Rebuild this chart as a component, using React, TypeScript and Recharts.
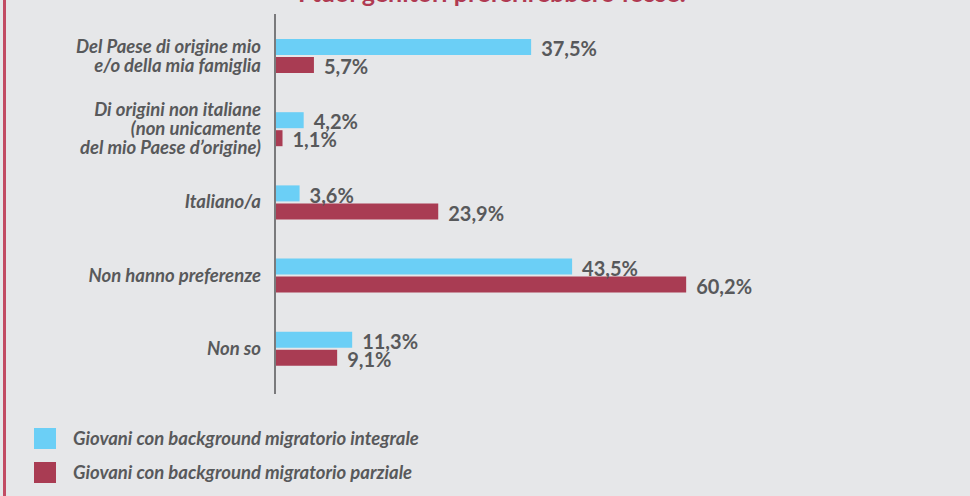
import React from 'react';
import { BarChart, Bar, XAxis, YAxis, LabelList } from 'recharts';

const categories = [
  'Del Paese di origine mio\ne/o della mia famiglia',
  'Di origini non italiane\n(non unicamente\ndel mio Paese d\u2019origine)',
  'Italiano/a',
  'Non hanno preferenze',
  'Non so',
];
const integrale = [37.5, 4.2, 3.6, 43.5, 11.3];
const parziale = [5.7, 1.1, 23.9, 60.2, 9.1];
const seriesNames = [
  'Giovani con background migratorio integrale',
  'Giovani con background migratorio parziale',
];

const CYAN = '#6bcff6';
const CRIMSON = '#a93c53';
const GREY = '#58595b';
const FONT = 'Lato, "Open Sans", sans-serif';

const data = categories.map((name, i) => ({
  name,
  integrale: integrale[i],
  parziale: parziale[i],
}));

const fmt = (v: any) => `${Number(v).toFixed(1).replace('.', ',')}%`;

const ValueLabel = (props: any) => {
  const { x, y, width, height, value } = props;
  return (
    <text
      x={Number(x) + Number(width) + 10}
      y={Number(y) + Number(height) / 2 + 2}
      dy="0.36em"
      fill={GREY}
      fontFamily={FONT}
      fontWeight={700}
      fontSize={20}
    >
      {fmt(value)}
    </text>
  );
};

const CategoryTick = (props: any) => {
  const { x, y, payload } = props;
  const lines: string[] = String(payload.value).split('\n');
  const lh = 19;
  const start = y - ((lines.length - 1) * lh) / 2;
  return (
    <text
      x={x - 6}
      y={start}
      textAnchor="end"
      fill={GREY}
      fontFamily={FONT}
      fontStyle="italic"
      fontWeight={700}
      fontSize={18.5}
    >
      {lines.map((l, i) => (
        <tspan key={i} x={x - 6} y={start + i * lh} dy="0.35em">
          {l}
        </tspan>
      ))}
    </text>
  );
};

export default function App() {
  return (
    <div
      style={{
        position: 'fixed',
        left: 0,
        top: 0,
        width: 970,
        height: 496,
        background: '#e6e7e9',
        overflow: 'hidden',
      }}
    >
      <div style={{ position: 'absolute', left: 3, top: 0, width: 3, height: 496, background: '#c24c64' }} />
      <div
        style={{
          position: 'absolute',
          left: 0,
          width: 984,
          top: -20,
          textAlign: 'center',
          fontFamily: FONT,
          fontWeight: 700,
          fontSize: 25,
          lineHeight: '25px',
          color: '#b03a52',
          whiteSpace: 'nowrap',
        }}
      >
        I tuoi genitori preferirebbero fosse:
      </div>
      <BarChart
        width={970}
        height={496}
        data={data}
        layout="vertical"
        margin={{ top: 14, right: 12, bottom: 102, left: 15 }}
        barSize={16}
        barGap={2}
      >
        <XAxis type="number" domain={[0, 100]} hide />
        <YAxis
          type="category"
          dataKey="name"
          width={260}
          axisLine={{ stroke: '#7a7a7c', strokeWidth: 2 }}
          tickLine={false}
          tick={<CategoryTick />}
          padding={{ top: 5, bottom: 9 }}
          interval={0}
        />
        <Bar dataKey="integrale" fill={CYAN} isAnimationActive={false}>
          <LabelList dataKey="integrale" content={<ValueLabel />} />
        </Bar>
        <Bar dataKey="parziale" fill={CRIMSON} isAnimationActive={false}>
          <LabelList dataKey="parziale" content={<ValueLabel />} />
        </Bar>
      </BarChart>
      <div style={{ position: 'absolute', left: 34, top: 421, fontFamily: FONT }}>
        {seriesNames.map((n, i) => (
          <div key={n} style={{ display: 'flex', alignItems: 'center', height: 34 }}>
            <div style={{ width: 22, height: 21, background: i === 0 ? CYAN : CRIMSON, marginRight: 17 }} />
            <span style={{ fontStyle: 'italic', fontWeight: 700, fontSize: 18.5, color: GREY }}>{n}</span>
          </div>
        ))}
      </div>
    </div>
  );
}
